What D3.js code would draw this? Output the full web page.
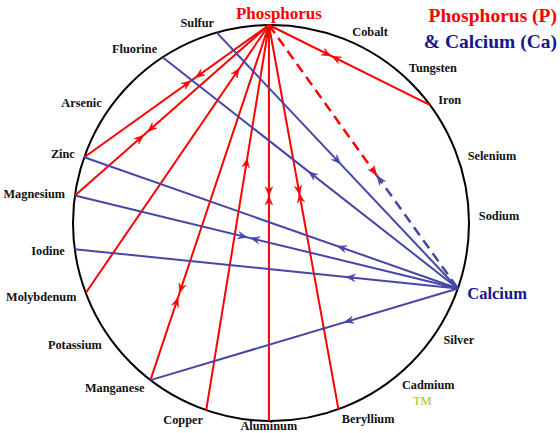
<!DOCTYPE html>
<html>
<head>
<meta charset="utf-8">
<script src="https://cdn.jsdelivr.net/npm/d3@7"></script>
<style>
  html, body { margin: 0; padding: 0; background: #fff; }
  svg { display: block; }
</style>
</head>
<body>
<svg id="chart" width="560" height="433"></svg>
<script>
// ---------- data ----------
const elements = ["Phosphorus","Cobalt","Tungsten","Iron","Selenium","Sodium","Calcium","Silver","Cadmium","Beryllium","Aluminum","Copper","Manganese","Potassium","Molybdenum","Iodine","Magnesium","Zinc","Arsenic","Fluorine","Sulfur"];
// position on the wheel, degrees clockwise from top
const angles = [-0.6, 23, 41.5, 53.5, 71, 88, 109.3, 124, 141, 160.1, 180.6, 199.1, 217.5, 234.4, 249.3, 262.4, 278, 289.4, 305.5, 326.8, 344.1];

// arrows: [fraction along line from hub, direction] (+1 = toward partner, -1 = toward hub)
const phosphorusLinks = [
  { to: "Iron",       arrows: [[0.36, 1], [0.415, -1]] },
  { to: "Zinc",       arrows: [[0.377, 1], [0.443, -1]] },
  { to: "Magnesium",  arrows: [[0.607, 1], [0.665, -1]] },
  { to: "Molybdenum", arrows: [[0.176, -1]] },
  { to: "Manganese",  arrows: [[0.742, 1], [0.78, -1]] },
  { to: "Copper",     arrows: [[0.358, -1]] },
  { to: "Aluminum",   arrows: [[0.42, 1], [0.443, -1]] },
  { to: "Beryllium",  arrows: [[0.43, 1], [0.45, -1]] }
];
const calciumLinks = [
  { to: "Sulfur",     arrows: [[0.5, -1]] },
  { to: "Fluorine",   arrows: [[0.493, 1]] },
  { to: "Zinc",       arrows: [[0.311, 1]] },
  { to: "Magnesium",  arrows: [[0.53, 1], [0.5617, -1]] },
  { to: "Iodine",     arrows: [[0.28, 1]] },
  { to: "Manganese",  arrows: [[0.355, 1]] }
];
// dashed Phosphorus - Calcium link: split point and arrows (fractions from Phosphorus)
const mutualSplit = 0.57;
const mutualArrows = [[0.555, 1, "P"], [0.587, -1, "Ca"]];

const titleLines = ["Phosphorus (P)", "& Calcium (Ca)"];
const trademark = "TM";

// ---------- drawing ----------
const FONT = "'Liberation Serif', 'Times New Roman', Times, 'DejaVu Serif', serif";
const RED = "#ff0000", BLUE = "#4646a8", NAVY = "#16168f";
const cx = 271, cy = 223, R = 198;
const svg = d3.select("#chart").attr("font-family", FONT).attr("font-weight", "bold");

const angleScale = d3.scaleLinear().domain([0, 360]).range([0, 2 * Math.PI]);
const idx = name => elements.indexOf(name);
function pos(name, rad = R) {
  const p = d3.pointRadial(angleScale(angles[idx(name)]), rad);
  return [cx + p[0], cy + p[1]];
}

svg.append("circle").attr("cx", cx).attr("cy", cy).attr("r", R)
  .attr("fill", "none").attr("stroke", "#000").attr("stroke-width", 2);

const gLines = svg.append("g");
const gArrows = svg.append("g");

function arrowHead(p0, p1, t, dir, color) {
  const x = p0[0] + (p1[0] - p0[0]) * t, y = p0[1] + (p1[1] - p0[1]) * t;
  let ux = p1[0] - p0[0], uy = p1[1] - p0[1];
  const L = Math.hypot(ux, uy); ux = ux / L * dir; uy = uy / L * dir;
  const nx = -uy, ny = ux;
  const len = 4.5, w = 3.6;
  const tip = [x + ux * len, y + uy * len];
  const b1 = [x - ux * len + nx * w, y - uy * len + ny * w];
  const notch = [x - ux * len * 0.3, y - uy * len * 0.3];
  const b2 = [x - ux * len - nx * w, y - uy * len - ny * w];
  gArrows.append("path")
    .attr("d", d3.line()([tip, b1, notch, b2]) + "Z")
    .attr("fill", color).attr("stroke", color).attr("stroke-width", 0.6);
}

function drawLinks(hub, links, color) {
  const h = pos(hub);
  links.forEach(l => {
    const e = pos(l.to);
    gLines.append("line").attr("x1", h[0]).attr("y1", h[1]).attr("x2", e[0]).attr("y2", e[1])
      .attr("stroke", color).attr("stroke-width", 2);
    l.arrows.forEach(([t, d]) => arrowHead(h, e, t, d, color));
  });
}
drawLinks("Phosphorus", phosphorusLinks, RED);
drawLinks("Calcium", calciumLinks, BLUE);

// dashed mutual link
{
  const p = pos("Phosphorus"), c = pos("Calcium");
  const m = [p[0] + (c[0] - p[0]) * mutualSplit, p[1] + (c[1] - p[1]) * mutualSplit];
  gLines.append("line").attr("x1", p[0]).attr("y1", p[1]).attr("x2", m[0]).attr("y2", m[1])
    .attr("stroke", RED).attr("stroke-width", 2.5).attr("stroke-dasharray", "10,6");
  gLines.append("line").attr("x1", m[0]).attr("y1", m[1]).attr("x2", c[0]).attr("y2", c[1])
    .attr("stroke", BLUE).attr("stroke-width", 2.5).attr("stroke-dasharray", "10,6");
  mutualArrows.forEach(([t, d, who]) => arrowHead(p, c, t, d, who === "P" ? RED : BLUE));
}

// labels
const gLabels = svg.append("g");
elements.forEach((name, i) => {
  if (name === "Phosphorus") {
    const p = pos(name);
    gLabels.append("text").attr("x", p[0] + 10).attr("y", p[1] - 6)
      .attr("text-anchor", "middle").attr("font-size", 17).attr("fill", RED).text(name);
    return;
  }
  const a = angleScale(angles[i]);
  const s = Math.sin(a);
  const anchor = Math.abs(s) < 0.08 ? "middle" : (s > 0 ? "start" : "end");
  const p = pos(name, R + 10);
  const isCa = name === "Calcium";
  const t = gLabels.append("text").attr("x", p[0]).attr("y", p[1])
    .attr("dy", isCa ? "0.42em" : "0.36em")
    .attr("text-anchor", anchor)
    .attr("font-size", isCa ? 16.5 : 12.3)
    .attr("fill", isCa ? NAVY : "#111")
    .text(name);
  if (name === "Aluminum") t.attr("dy", "-0.12em");
  if (name === "Cadmium") {
    gLabels.append("text").attr("x", p[0] + 11).attr("y", p[1] + 20)
      .attr("font-size", 12.5).attr("font-weight", "normal").attr("fill", "#9fc42a").text(trademark);
  }
});

// title
svg.append("text").attr("x", 557).attr("y", 22).attr("text-anchor", "end")
  .attr("font-size", 19.5).attr("fill", RED).text(titleLines[0]);
svg.append("text").attr("x", 557).attr("y", 48).attr("text-anchor", "end")
  .attr("font-size", 19.5).attr("fill", NAVY).text(titleLines[1]);
</script>
</body>
</html>
